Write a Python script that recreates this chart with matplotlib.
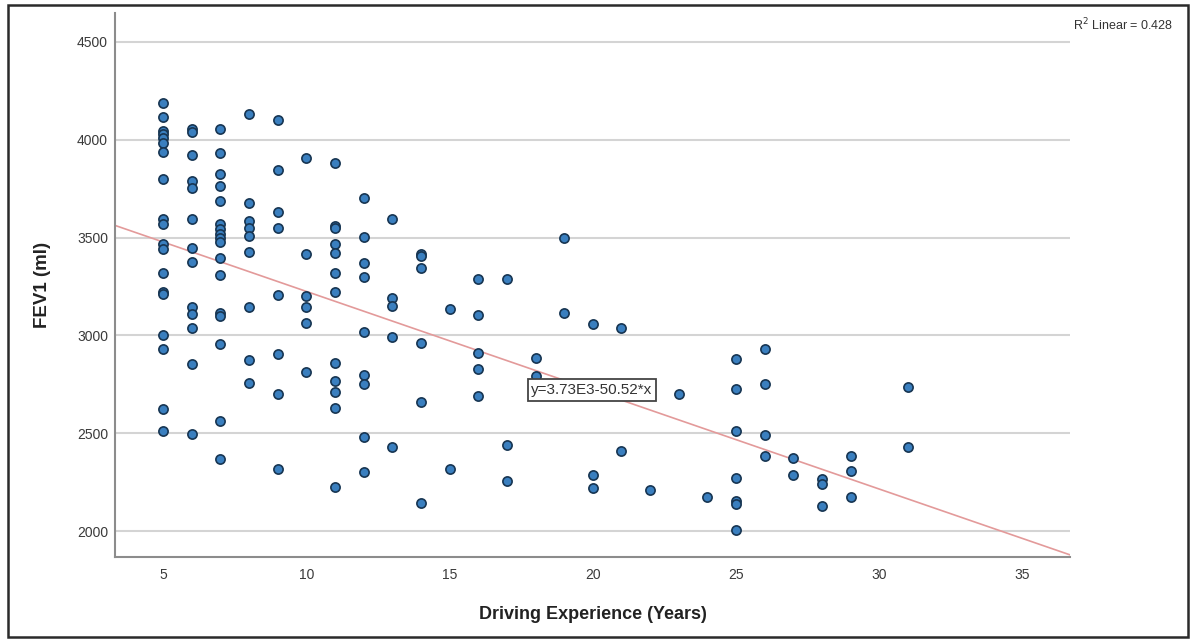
from matplotlib import pyplot as plt
from matplotlib.patches import Rectangle
import numpy as np

plt.rcParams['font.family'] = ['Liberation Sans', 'DejaVu Sans']

# driving experience (years), one entry per column of points
exp_years = [5, 6, 7, 8, 9, 10, 11, 12, 13, 14, 15, 16, 17, 18, 19, 20,
             21, 22, 23, 24, 25, 26, 27, 28, 29, 31]

# FEV1 (ml) for each of those columns
fev1_groups = [
    [4190, 4117, 4045, 4028, 4008, 3985, 3938, 3801, 3594, 3568, 3466, 3440,
     3317, 3223, 3210, 3000, 2929, 2625, 2511],
    [4055, 4040, 3920, 3790, 3755, 3595, 3445, 3375, 3145, 3110, 3040, 2855, 2495],
    [4057, 3934, 3827, 3764, 3687, 3568, 3542, 3520, 3500, 3479, 3397, 3307,
     3116, 3099, 2958, 2562, 2370],
    [4133, 3679, 3585, 3551, 3508, 3426, 3145, 2874, 2758],
    [4100, 3844, 3632, 3547, 3207, 2903, 2699, 2315],
    [3909, 3415, 3201, 3145, 3065, 2813],
    [3880, 3559, 3547, 3466, 3420, 3317, 3223, 2857, 2767, 2712, 2627, 2225],
    [3704, 3505, 3372, 3300, 3017, 2797, 2750, 2481, 2302],
    [3594, 3190, 3150, 2992, 2431],
    [3418, 3406, 3346, 2963, 2660, 2145],
    [3137, 2316],
    [3287, 3103, 2912, 2830, 2690],
    [3290, 2438, 2256],
    [2883, 2792],
    [3500, 3113],
    [3060, 2286, 2218],
    [3036, 2409],
    [2208],
    [2699],
    [2174],
    [2878, 2728, 2513, 2273, 2153, 2137, 2005],
    [2929, 2750, 2489, 2383],
    [2375, 2286],
    [2264, 2239, 2128],
    [2383, 2307, 2174],
    [2738, 2429],
]

# fit shown on the chart
intercept = 3730
slope = -50.52
r_squared = 0.428

x = np.concatenate([[yr] * len(g) for yr, g in zip(exp_years, fev1_groups)])
y = np.concatenate(fev1_groups)

fig = plt.figure(figsize=(11.92, 6.39), dpi=100)
ax = fig.add_axes([0.0965, 0.1283, 0.8012, 0.8513])

ax.set_xlim(3.32, 36.66)
ax.set_ylim(1867, 4648)

ax.scatter(x, y, s=44, c='#3a7fbf', edgecolors='#173552', linewidths=1.2, zorder=3)

xs = np.array(ax.get_xlim())
ax.plot(xs, intercept + slope * xs, color='#e39a9a', lw=1.2, zorder=2)

ax.text(19.97, 2721, f'y={intercept / 1000:.2f}E3{slope:.2f}*x', ha='center', va='center',
        fontsize=11, color='#333333', zorder=4,
        bbox=dict(boxstyle='square,pad=0.25', fc='white', ec='#444444', lw=1.3))

ax.set_xticks([5, 10, 15, 20, 25, 30, 35])
ax.set_yticks([2000, 2500, 3000, 3500, 4000, 4500])
ax.grid(axis='y', color='#d4d4d4', lw=1.5)
ax.set_axisbelow(True)
for s in ['top', 'right']:
    ax.spines[s].set_visible(False)
for s in ['left', 'bottom']:
    ax.spines[s].set_color('#8c8c8c')
    ax.spines[s].set_linewidth(1.5)
ax.tick_params(axis='both', length=0, labelsize=10, colors='#3a3a3a')
ax.tick_params(axis='y', pad=5)
ax.tick_params(axis='x', pad=8)

ax.set_xlabel('Driving Experience (Years)', fontsize=13, fontweight='bold', color='#222222')
ax.set_ylabel('FEV1 (ml)', fontsize=13.5, fontweight='bold', color='#222222')
ax.xaxis.set_label_coords(0.5, -0.09)
ax.yaxis.set_label_coords(-0.067, 0.5)

fig.text(0.9, 0.961, f'R$^2$ Linear = {r_squared}', fontsize=9, color='#333333',
         ha='left', va='center')

# outer frame round the whole picture
fig.add_artist(Rectangle((8 / 1192, 0.003), 1180 / 1192, 0.989, transform=fig.transFigure,
                         fill=False, ec='#2a2a2a', lw=1.8))

plt.savefig('out.png', dpi=100)
